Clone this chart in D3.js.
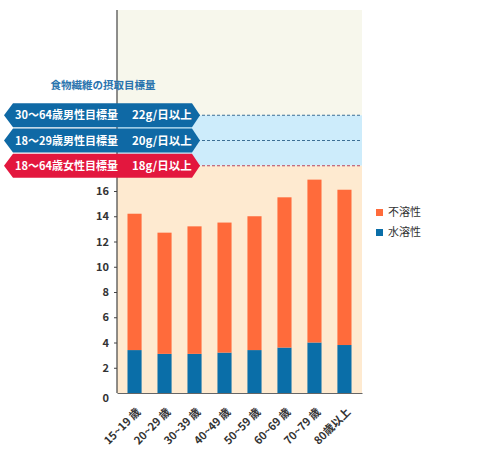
<!DOCTYPE html>
<html>
<head>
<meta charset="utf-8">
<script src="https://cdn.jsdelivr.net/npm/d3@7"></script>
<style>
  body { margin: 0; background: #fff; }
  svg { font-family: "Noto Sans CJK JP", "Noto Sans", sans-serif; }
</style>
</head>
<body>
<div id="chart"></div>
<script>
// data
var ageGroups = ["15~19 歳", "20~29 歳", "30~39 歳", "40~49 歳", "50~59 歳", "60~69 歳", "70~79 歳", "80歳以上"];
var waterSoluble = [3.4, 3.1, 3.1, 3.2, 3.4, 3.6, 4.0, 3.8];
var insoluble = [10.8, 9.6, 10.1, 10.3, 10.6, 11.9, 12.9, 12.3];
var yTicks = [0, 2, 4, 6, 8, 10, 12, 14, 16];
var targets = [
  {label: "30〜64歳男性目標量", amount: "22g/日以上", value: 22, kind: "male"},
  {label: "18〜29歳男性目標量", amount: "20g/日以上", value: 20, kind: "male"},
  {label: "18〜64歳女性目標量", amount: "18g/日以上", value: 18, kind: "female"}
];
var seriesNames = ["不溶性", "水溶性"];

var colors = {insoluble: "#ff6b3b", water: "#0a6ea8", male: "#0f69a5", female: "#e3173e"};

var margin = {top: 10, left: 117},
    plotW = 245,
    plotH = 383;

var svg = d3.select("#chart").append("svg")
    .attr("width", 480)
    .attr("height", 449);

var g = svg.append("g")
    .attr("transform", "translate(" + margin.left + "," + margin.top + ")");

var x = d3.scaleBand()
    .domain(ageGroups)
    .range([0, plotW])
    .paddingInner(0.53)
    .paddingOuter(0.35);

var y = d3.scaleLinear()
    .domain([0, 16])
    .range([plotH, plotH - 16 * 12.625]);

// background bands
g.append("rect").attr("x", 0).attr("y", 0).attr("width", plotW)
    .attr("height", y(22)).attr("fill", "#f7f7ec");
g.append("rect").attr("x", 0).attr("y", y(22)).attr("width", plotW)
    .attr("height", y(18) - y(22)).attr("fill", "#cdecfb");
g.append("rect").attr("x", 0).attr("y", y(18)).attr("width", plotW)
    .attr("height", plotH - y(18)).attr("fill", "#feead0");

// dashed target lines
g.selectAll(".target-line")
    .data(targets)
    .join("line")
    .attr("class", "target-line")
    .attr("x1", 0)
    .attr("x2", plotW)
    .attr("y1", function(d) { return y(d.value); })
    .attr("y2", function(d) { return y(d.value); })
    .attr("stroke", function(d) { return d.kind == "male" ? "#3c6f95" : "#b8455c"; })
    .attr("stroke-width", 1)
    .attr("stroke-dasharray", "3,2");

// stacked bars
var rows = ageGroups.map(function(a, i) {
    return {age: a, water: waterSoluble[i], insoluble: insoluble[i]};
});
var stack = d3.stack().keys(["water", "insoluble"])(rows);

g.selectAll(".layer")
    .data(stack)
    .join("g")
    .attr("class", "layer")
    .attr("fill", function(d) { return d.key == "water" ? colors.water : colors.insoluble; })
    .selectAll("rect")
    .data(function(d) { return d; })
    .join("rect")
    .attr("x", function(d) { return x(d.data.age); })
    .attr("y", function(d) { return y(d[1]); })
    .attr("height", function(d) { return y(d[0]) - y(d[1]); })
    .attr("width", x.bandwidth());

// y axis
var yAxis = g.append("g")
    .call(d3.axisLeft(y).tickValues(yTicks).tickSize(3).tickPadding(5));
yAxis.select(".domain").remove();
yAxis.selectAll(".tick line").attr("stroke", "#444");
yAxis.selectAll(".tick").filter(function(d) { return d == 0; }).select("line").remove();
yAxis.selectAll(".tick text")
    .attr("fill", "#333")
    .style("font-size", "11px")
    .style("font-weight", "bold")
    .style("font-family", "'Noto Sans CJK JP', sans-serif");
yAxis.selectAll(".tick").filter(function(d) { return d == 0; }).select("text").attr("dy", "0.8em");

g.append("line")
    .attr("x1", 0).attr("x2", 0)
    .attr("y1", 0).attr("y2", plotH)
    .attr("stroke", "#444").attr("stroke-width", 1.2);

// x axis
var xAxis = g.append("g")
    .attr("transform", "translate(0," + plotH + ")")
    .call(d3.axisBottom(x).tickSize(0).tickPadding(0));
xAxis.select(".domain").attr("stroke", "#666").attr("stroke-width", 1.2);
xAxis.selectAll(".tick text")
    .attr("fill", "#333")
    .style("font-size", "11px")
    .style("font-weight", "bold")
    .style("font-family", "'Noto Sans CJK JP', sans-serif")
    .attr("text-anchor", "end")
    .attr("y", 0)
    .attr("dy", "0.35em")
    .attr("transform", "translate(4,17) rotate(-45)");

// target banners
svg.append("text")
    .attr("x", 103)
    .attr("y", 89)
    .attr("text-anchor", "middle")
    .attr("fill", "#2a74ae")
    .style("font-size", "10.5px")
    .style("font-weight", "bold")
    .text("食物繊維の摂取目標量");

var banner = svg.selectAll(".banner")
    .data(targets)
    .join("g")
    .attr("class", "banner")
    .attr("transform", function(d) { return "translate(0," + (margin.top + y(d.value)) + ")"; });

banner.append("path")
    .attr("d", "M4,0 L13,-12 L192,-12 L200,0 L192,12 L13,12 Z")
    .attr("fill", function(d) { return colors[d.kind]; });

banner.append("text")
    .attr("x", 15)
    .attr("y", 4)
    .attr("fill", "#fff")
    .style("font-size", "11px")
    .style("font-weight", "bold")
    .text(function(d) { return d.label; });

banner.append("text")
    .attr("x", 132)
    .attr("y", 4)
    .attr("fill", "#fff")
    .style("font-size", "11.5px")
    .style("font-weight", "bold")
    .text(function(d) { return d.amount; });

// legend
var legend = svg.selectAll(".legend")
    .data(seriesNames)
    .join("g")
    .attr("class", "legend")
    .attr("transform", function(d, i) { return "translate(376," + (209 + i * 20) + ")"; });

legend.append("rect")
    .attr("width", 7).attr("height", 7)
    .attr("fill", function(d, i) { return i == 0 ? colors.insoluble : colors.water; });

legend.append("text")
    .attr("x", 12)
    .attr("y", 7)
    .attr("fill", "#333")
    .style("font-size", "11px")
    .text(function(d) { return d; });
</script>
</body>
</html>
